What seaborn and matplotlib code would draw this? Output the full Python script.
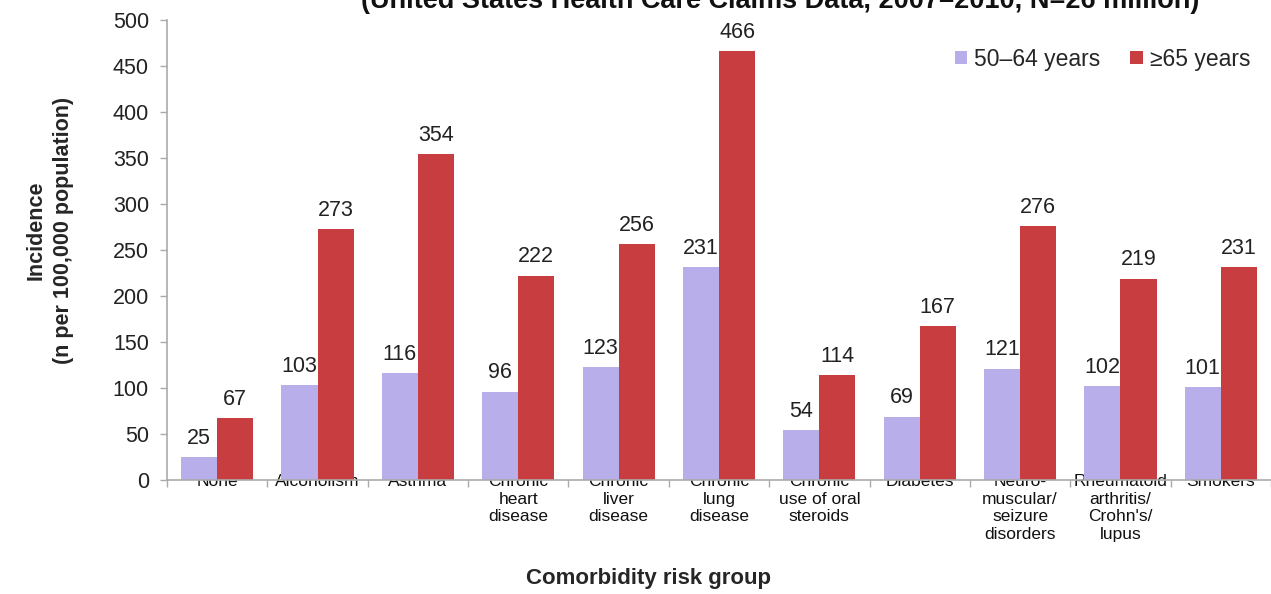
import matplotlib
matplotlib.use("Agg")
import matplotlib.pyplot as plt
import seaborn as sns
import pandas as pd

categories = [
    "None", "Alcoholism", "Asthma", "Chronic\nheart\ndisease", "Chronic\nliver\ndisease",
    "Chronic\nlung\ndisease", "Chronic\nuse of oral\nsteroids", "Diabetes",
    "Neuro-\nmuscular/\nseizure\ndisorders", "Rheumatoid\narthritis/\nCrohn's/\nlupus", "Smokers",
]
age_50_64 = [25, 103, 116, 96, 123, 231, 54, 69, 121, 102, 101]
age_65_plus = [67, 273, 354, 222, 256, 466, 114, 167, 276, 219, 231]
series_names = ["50\u201364 years", "\u226565 years"]
yticks = [0, 50, 100, 150, 200, 250, 300, 350, 400, 450, 500]

df = pd.DataFrame({
    "group": categories * 2,
    "age": [series_names[0]] * len(categories) + [series_names[1]] * len(categories),
    "incidence": age_50_64 + age_65_plus,
})

sns.set_theme(style="white")
plt.rcParams["font.family"] = ["Liberation Sans", "DejaVu Sans"]

fig = plt.figure(figsize=(12.71, 5.94), dpi=100)
ax = fig.add_axes([167 / 1271, 1 - 480 / 594, (1271 - 167) / 1271, 460 / 594])

palette = {series_names[0]: "#B8AFEA", series_names[1]: "#C83E40"}
sns.barplot(data=df, x="group", y="incidence", hue="age", hue_order=series_names,
            order=categories, palette=palette, width=0.72, gap=0, saturation=1,
            linewidth=0, ax=ax, legend=True)

for container in ax.containers:
    ax.bar_label(container, fmt="%d", padding=6, fontsize=15.5, color="#222222")

ax.set_xlim(-0.5, len(categories) - 0.5)
ax.set_ylim(0, 500)
ax.set_yticks(yticks)
ax.tick_params(axis="y", labelsize=15.5, colors="#222222", length=5, width=1,
               direction="out", left=True, pad=8)
ax.tick_params(axis="y", color="#aaaaaa")
ax.tick_params(axis="x", labelsize=12.5, colors="#111111", length=0, pad=-4)
for lbl in ax.get_xticklabels():
    lbl.set_linespacing(1.2)
    lbl.set_verticalalignment("top")

# boundary ticks between groups on the category axis
ax.set_xticks([i + 0.5 for i in range(-1, len(categories))], minor=True)
ax.tick_params(axis="x", which="minor", length=5, color="#aaaaaa", width=1, bottom=True)

for side in ["top", "right"]:
    ax.spines[side].set_visible(False)
for side in ["left", "bottom"]:
    ax.spines[side].set_color("#aaaaaa")
    ax.spines[side].set_linewidth(1.2)

ax.set_xlabel("Comorbidity risk group", fontsize=16, fontweight="bold")
ax.xaxis.set_label_coords((648 - 167) / (1271 - 167), -(568 - 480) / 460)
ax.set_ylabel("Incidence\n(n per 100,000 population)", fontsize=15.5, fontweight="bold",
              linespacing=1.4)
ax.yaxis.set_label_coords(-(167 - 74) / (1271 - 167), (480 - 230) / 460)

leg = ax.legend(loc="upper right", bbox_to_anchor=(1.0, 0.985), frameon=False,
                fontsize=16.5, ncol=2, handlelength=0.55, handleheight=0.55,
                handletextpad=0.3, columnspacing=1.3)

fig.text(0.614, 1 - 1 / 594, "(United States Health Care Claims Data, 2007\u20132010, N=26 million)",
         ha="center", va="center", fontsize=19.5, fontweight="bold", color="#111111")

fig.savefig("out.png", dpi=100)
